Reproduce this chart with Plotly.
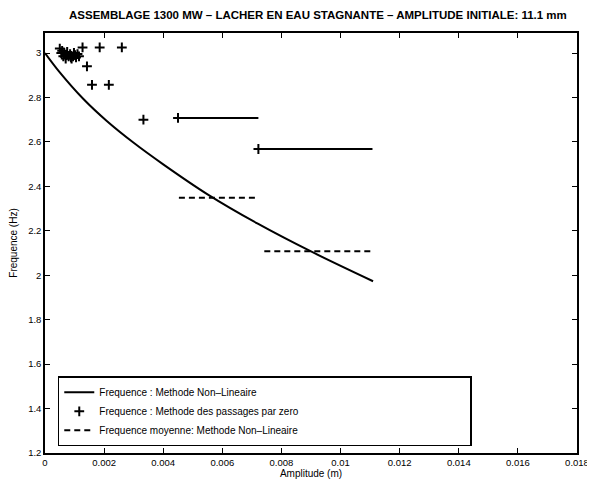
import plotly.graph_objects as go

# courbe frequence / amplitude (methode non-lineaire)
amp_nl = [0.0, 0.0005, 0.0013, 0.0021, 0.0030, 0.0040, 0.0055, 0.0072, 0.0090, 0.0111]
freq_nl = [3.0, 2.913, 2.793, 2.693, 2.596, 2.499, 2.364, 2.232, 2.107, 1.973]

# passages par zero (points +)
amp_pz = [0.00050, 0.00058, 0.00065, 0.00072, 0.00080, 0.00088, 0.00095, 0.00102,
          0.00110, 0.00062, 0.00075, 0.00085, 0.00098, 0.00070, 0.00090, 0.00105,
          0.00055, 0.00115, 0.00127, 0.00185, 0.00260, 0.00142, 0.00159, 0.00216,
          0.00333, 0.00450, 0.00722]
freq_pz = [3.020, 3.010, 3.000, 2.990, 2.985, 2.980, 2.985, 2.990,
           2.995, 2.985, 3.005, 2.995, 3.000, 2.975, 2.975, 2.980,
           3.000, 2.985, 3.025, 3.025, 3.025, 2.940, 2.857, 2.857,
           2.700, 2.708, 2.568]

# paliers passages par zero (traits pleins)
seg_start = [0.00450, 0.00722]
seg_end = [0.00722, 0.01108]
seg_freq = [2.708, 2.568]

# frequence moyenne (tirets)
moy_start = [0.00453, 0.00742]
moy_end = [0.00722, 0.01108]
moy_freq = [2.349, 2.108]

xticks = [0, 0.002, 0.004, 0.006, 0.008, 0.01, 0.012, 0.014, 0.016, 0.018]
xtick_text = ["0", "0.002", "0.004", "0.006", "0.008", "0.01", "0.012", "0.014", "0.016", "0.018"]
yticks = [1.2, 1.4, 1.6, 1.8, 2.0, 2.2, 2.4, 2.6, 2.8, 3.0]
ytick_text = ["1.2", "1.4", "1.6", "1.8", "2", "2.2", "2.4", "2.6", "2.8", "3"]


def segments(x0, x1, y):
    xs, ys = [], []
    for a, b, f in zip(x0, x1, y):
        xs += [a, b, None]
        ys += [f, f, None]
    return xs, ys


fig = go.Figure()

fig.add_trace(go.Scatter(x=amp_nl, y=freq_nl, mode="lines", line_shape="spline",
                         line=dict(color="black", width=2),
                         name="Frequence : Methode Non\u2013Lineaire"))

sx, sy = segments(seg_start, seg_end, seg_freq)
fig.add_trace(go.Scatter(x=sx, y=sy, mode="lines", line=dict(color="black", width=2),
                         showlegend=False, hoverinfo="skip"))

fig.add_trace(go.Scatter(x=amp_pz, y=freq_pz, mode="markers",
                         marker=dict(symbol="cross-thin", size=7,
                                     line=dict(color="black", width=2)),
                         name="Frequence : Methode des passages par zero"))

mx, my = segments(moy_start, moy_end, moy_freq)
fig.add_trace(go.Scatter(x=mx, y=my, mode="lines",
                         line=dict(color="black", width=2, dash="6px,4px"),
                         name="Frequence moyenne: Methode Non\u2013Lineaire"))

axis_common = dict(showline=True, linecolor="black", linewidth=1.5, mirror="allticks",
                   ticks="inside", ticklen=5, tickcolor="black", showgrid=False,
                   zeroline=False, automargin=False, ticklabeloverflow="allow",
                   tickfont=dict(size=9.5, color="black"))

fig.update_xaxes(range=[0, 0.018], tickvals=xticks, ticktext=xtick_text,
                 title=dict(text="Amplitude (m)", font=dict(size=10), standoff=0),
                 **axis_common)
fig.update_yaxes(range=[1.2, 3.09], tickvals=yticks, ticktext=ytick_text,
                 title=dict(text="Frequence (Hz)", font=dict(size=10), standoff=9),
                 **axis_common)

# the page has an 8px body margin, so the figure is 8px smaller each way
fig.update_layout(
    width=587, height=476,
    margin=dict(l=37, r=18, t=25, b=31),
    paper_bgcolor="white", plot_bgcolor="white",
    font=dict(family="Liberation Sans, Arial, sans-serif", color="black"),
    title=dict(text="<b>ASSEMBLAGE 1300 MW \u2013 LACHER EN EAU STAGNANTE \u2013 AMPLITUDE INITIALE: 11.1 mm</b>",
               x=0.528, xanchor="center", y=0.985, yanchor="middle",
               font=dict(size=11.5)),
    legend=dict(x=0.024, y=0.016, xanchor="left", yanchor="bottom",
                orientation="h", entrywidth=366, entrywidthmode="pixels",
                bordercolor="black", borderwidth=1.5, bgcolor="white",
                font=dict(size=10), tracegroupgap=0),
    showlegend=True,
)

fig.write_html("out.html")
